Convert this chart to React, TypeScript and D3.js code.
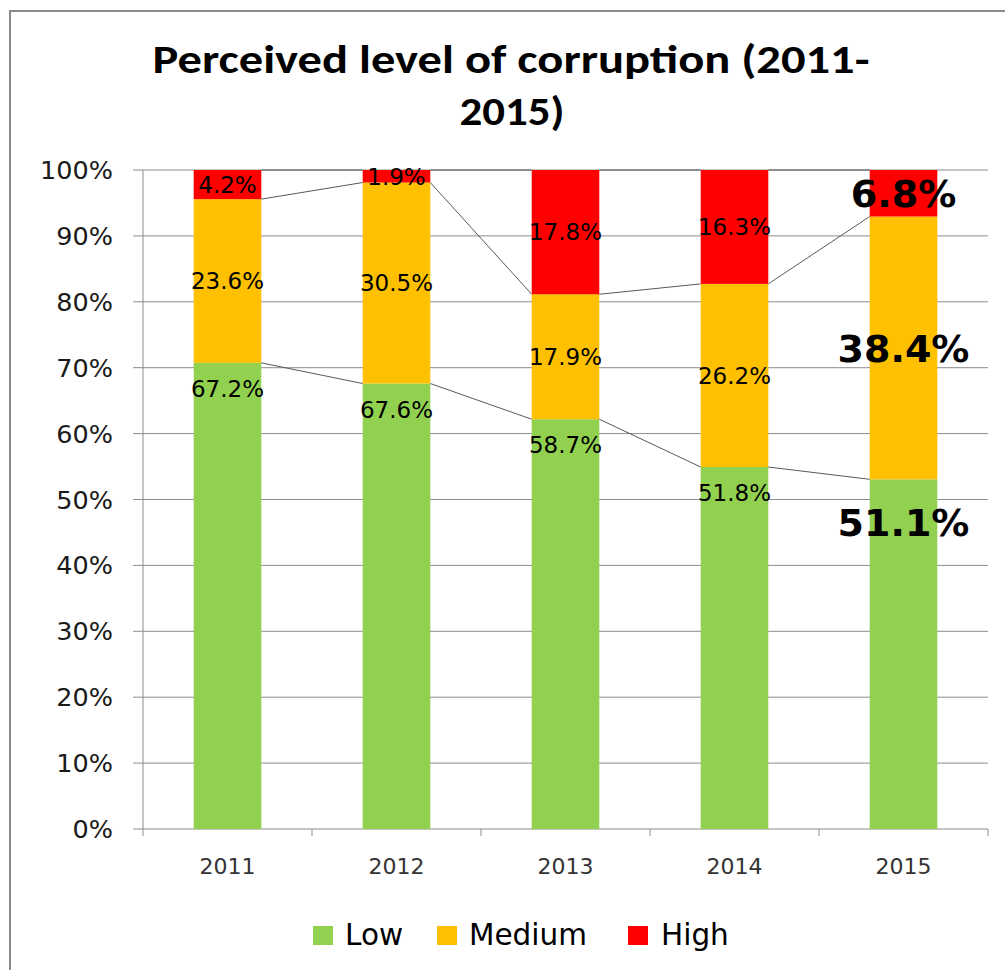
import React from "react";
import * as d3 from "d3";

const years = ["2011", "2012", "2013", "2014", "2015"];
const lowValues = [67.2, 67.6, 58.7, 51.8, 51.1];
const mediumValues = [23.6, 30.5, 17.9, 26.2, 38.4];
const highValues = [4.2, 1.9, 17.8, 16.3, 6.8];
const seriesKeys = ["low", "medium", "high"];
const seriesNames = ["Low", "Medium", "High"];
const seriesColors = ["#92D050", "#FFC000", "#FF0000"];
const yTicks = [0, 0.1, 0.2, 0.3, 0.4, 0.5, 0.6, 0.7, 0.8, 0.9, 1.0];
const emphasized = "2015";

const W = 1005;
const H = 970;
const plot = { left: 143, right: 988, top: 170, bottom: 829 };
const legendItems = [
  { sq: 313, tx: 345 },
  { sq: 437, tx: 469 },
  { sq: 628, tx: 661 },
];

export default function App() {
  const rows = years.map((y, i) => ({
    year: y,
    low: lowValues[i],
    medium: mediumValues[i],
    high: highValues[i],
  }));
  const raw: Record<string, number[]> = {
    low: lowValues,
    medium: mediumValues,
    high: highValues,
  };
  const stack = d3
    .stack<any>()
    .keys(seriesKeys)
    .offset(d3.stackOffsetExpand);
  const stacked = stack(rows);

  const x = d3.scaleBand<string>().domain(years).range([plot.left, plot.right]).padding(0);
  const y = d3.scaleLinear().domain([0, 1]).range([plot.bottom, plot.top]);
  const barW = x.bandwidth() * 0.4;
  const barX = (yr: string) => (x(yr) as number) + (x.bandwidth() - barW) / 2;

  const font = "'DejaVu Sans', Verdana, sans-serif";
  const gridColor = "#8c8c8c";

  return (
    <div style={{ position: "absolute", left: 0, top: 0 }}>
      <svg width={W} height={H} style={{ display: "block", background: "#fff" }}>
        <rect x={10} y={11} width={1200} height={1200} fill="#fff" stroke="#8a8a8a" strokeWidth={2} />
        {/* title */}
        <text
          x={511}
          y={73}
          textAnchor="middle"
          fontFamily="Carlito, Lato, 'Open Sans', sans-serif"
          fontWeight="bold"
          fontSize={40}
          textLength={717}
          lengthAdjust="spacingAndGlyphs"
          fill="#000"
        >
          Perceived level of corruption (2011-
        </text>
        <text
          x={512}
          y={125}
          textAnchor="middle"
          fontFamily="Carlito, Lato, 'Open Sans', sans-serif"
          fontWeight="bold"
          fontSize={40}
          textLength={105}
          lengthAdjust="spacingAndGlyphs"
          fill="#000"
        >
          2015)
        </text>

        {/* gridlines and y ticks */}
        {yTicks.map((t) => (
          <g key={t}>
            <line x1={plot.left - 10} x2={plot.right} y1={y(t)} y2={y(t)} stroke={gridColor} strokeWidth={1} />
            <text
              x={113}
              y={y(t) + 9}
              textAnchor="end"
              fontFamily={font}
              fontSize={25.5}
              fill="#1a1a1a"
            >
              {Math.round(t * 100)}%
            </text>
          </g>
        ))}
        {/* y axis line */}
        <line x1={plot.left} x2={plot.left} y1={plot.top} y2={plot.bottom} stroke={gridColor} strokeWidth={1} />
        {/* x ticks */}
        {[...years.map((yr) => x(yr) as number), plot.right].map((px, i) => (
          <line key={i} x1={px} x2={px} y1={plot.bottom} y2={plot.bottom + 7} stroke={gridColor} strokeWidth={1} />
        ))}
        {years.map((yr) => (
          <text
            key={yr}
            x={(x(yr) as number) + x.bandwidth() / 2}
            y={874}
            textAnchor="middle"
            fontFamily={font}
            fontSize={22}
            fill="#333"
          >
            {yr}
          </text>
        ))}

        {/* bars */}
        {stacked.map((s, k) => (
          <g key={s.key}>
            {s.map((d, i) => (
              <rect
                key={i}
                x={barX(years[i])}
                width={barW}
                y={y(d[1])}
                height={y(d[0]) - y(d[1])}
                fill={seriesColors[k]}
              />
            ))}
          </g>
        ))}

        {/* series lines */}
        {stacked.map((s) => (
          <g key={"sl" + s.key}>
            {s.slice(0, -1).map((d, i) => (
              <line
                key={i}
                x1={barX(years[i]) + barW}
                y1={y(d[1])}
                x2={barX(years[i + 1])}
                y2={y(s[i + 1][1])}
                stroke="#595959"
                strokeWidth={1}
              />
            ))}
          </g>
        ))}

        {/* data labels */}
        {stacked.map((s, k) => (
          <g key={"lb" + s.key}>
            {s.map((d, i) => {
              const big = years[i] === emphasized;
              const fs = big ? 38 : 23;
              const top = y(d[1]);
              const bottom = y(d[0]);
              const center = k === 0 ? top + fs * 1.13 : (top + bottom) / 2;
              return (
                <text
                  key={i}
                  x={barX(years[i]) + barW / 2}
                  y={center + fs * 0.36}
                  textAnchor="middle"
                  fontFamily={font}
                  fontWeight={big ? "bold" : "normal"}
                  fontSize={fs}
                  fill="#000"
                >
                  {raw[s.key][i].toFixed(1)}%
                </text>
              );
            })}
          </g>
        ))}

        {/* legend */}
        {seriesNames.map((n, k) => (
          <g key={n}>
            <rect x={legendItems[k].sq} y={926} width={20} height={19} fill={seriesColors[k]} />
            <text x={legendItems[k].tx} y={945} fontFamily={font} fontSize={29.5} fill="#000">
              {n}
            </text>
          </g>
        ))}
      </svg>
    </div>
  );
}
